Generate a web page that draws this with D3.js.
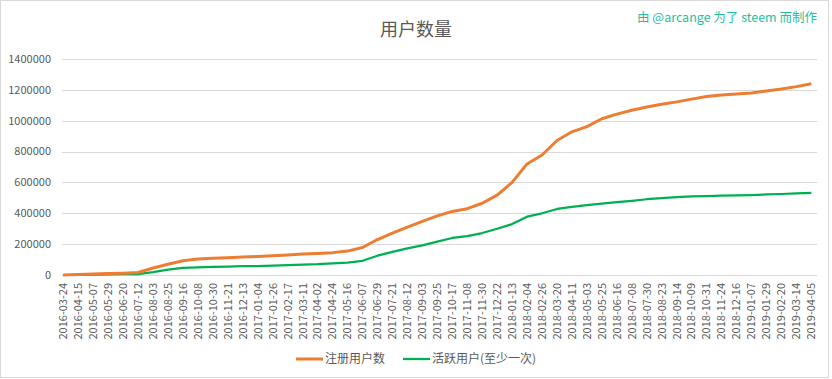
<!DOCTYPE html>
<html><head><meta charset="utf-8">
<script src="https://cdn.jsdelivr.net/npm/d3@7"></script>
<style>
html,body{margin:0;padding:0;background:#fff;}
svg{display:block;font-family:"Noto Sans CJK SC","Noto Sans",sans-serif;}
</style></head>
<body><svg id="chart" width="832" height="379"></svg>
<script>
const dates = ["2016-03-24","2016-04-15","2016-05-07","2016-05-29","2016-06-20","2016-07-12","2016-08-03","2016-08-25","2016-09-16","2016-10-08","2016-10-30","2016-11-21","2016-12-13","2017-01-04","2017-01-26","2017-02-17","2017-03-11","2017-04-02","2017-04-24","2017-05-16","2017-06-07","2017-06-29","2017-07-21","2017-08-12","2017-09-03","2017-09-25","2017-10-17","2017-11-08","2017-11-30","2017-12-22","2018-01-13","2018-02-04","2018-02-26","2018-03-20","2018-04-11","2018-05-03","2018-05-25","2018-06-16","2018-07-08","2018-07-30","2018-08-23","2018-09-14","2018-10-09","2018-10-31","2018-11-24","2018-12-16","2019-01-07","2019-01-29","2019-02-20","2019-03-14","2019-04-05"];
const registered = [0,3000,7000,9000,12000,16000,45000,70000,92000,103000,108000,112000,116000,120000,125000,130000,136000,140000,145000,155000,178000,230000,272000,310000,347000,383000,412000,430000,465000,518000,600000,720000,778000,872000,928000,962000,1013000,1043000,1068000,1089000,1107000,1122000,1140000,1157000,1167000,1173000,1179000,1193000,1205000,1221000,1240000];
const active = [0,1000,3000,4000,5000,6000,18000,35000,46000,50000,53000,55000,57000,58000,61000,64000,67000,70000,76000,80000,92000,125000,150000,172000,192000,216000,240000,252000,272000,300000,330000,378000,400000,428000,441000,453000,463000,473000,481000,491000,498000,505000,509000,511000,514000,516000,518000,522000,525000,529000,533000];
const yTicks = [0,200000,400000,600000,800000,1000000,1200000,1400000];
const seriesNames = ["注册用户数","活跃用户(至少一次)"];
const titleText = "用户数量";
const creditText = "由 @arcange 为了 steem 而制作";

const svg = d3.select("#chart");
const plot = {left:62, right:817, top:59, bottom:275};

svg.append("rect").attr("x",0.5).attr("y",0.5).attr("width",828).attr("height",377)
  .attr("fill","#fff").attr("stroke","#d9d9d9");

const x = d3.scalePoint().domain(dates).range([63.3, 811.3]);
const y = d3.scaleLinear().domain([0,1400000]).range([plot.bottom, plot.top]);

svg.append("g").selectAll("line").data(yTicks).join("line")
  .attr("x1",plot.left).attr("x2",plot.right)
  .attr("y1",d=>Math.round(y(d))+0.5).attr("y2",d=>Math.round(y(d))+0.5)
  .attr("stroke","#d9d9d9").attr("stroke-width",1);

svg.append("g").selectAll("text").data(yTicks).join("text")
  .attr("x",51).attr("y",d=>y(d)).attr("dy","0.35em")
  .attr("text-anchor","end").attr("font-size",11).attr("fill","#595959")
  .text(d=>d);

svg.append("g").selectAll("text").data(dates).join("text")
  .attr("transform",d=>`translate(${x(d)},283) rotate(-90)`)
  .attr("dy","0.35em").attr("text-anchor","end")
  .attr("font-size",11).attr("fill","#595959")
  .text(d=>d);

const line = d3.line().x((d,i)=>x(dates[i])).y(d=>y(d));
svg.append("path").datum(active).attr("d",line).attr("fill","none")
  .attr("stroke","#00b050").attr("stroke-width",2.25).attr("stroke-linejoin","round");
svg.append("path").datum(registered).attr("d",line).attr("fill","none")
  .attr("stroke","#ed7d31").attr("stroke-width",3).attr("stroke-linejoin","round");

svg.append("text").attr("x",416).attr("y",36).attr("text-anchor","middle")
  .attr("font-size",18).attr("fill","#595959").text(titleText);
svg.append("text").attr("x",817).attr("y",22).attr("text-anchor","end")
  .attr("font-size",12.5).attr("fill","#1fbf9f").text(creditText);

const legend = [
  {name:seriesNames[0], color:"#ed7d31", w:3, x0:296},
  {name:seriesNames[1], color:"#00b050", w:2.25, x0:403}
];
const lg = svg.append("g");
legend.forEach(l=>{
  lg.append("line").attr("x1",l.x0).attr("x2",l.x0+27).attr("y1",359).attr("y2",359)
    .attr("stroke",l.color).attr("stroke-width",l.w);
  lg.append("text").attr("x",l.x0+29).attr("y",359).attr("dy","0.35em")
    .attr("font-size",12).attr("fill","#595959").text(l.name);
});
</script></body></html>
